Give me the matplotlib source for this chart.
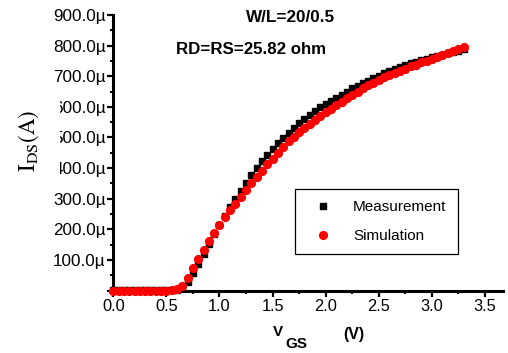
import numpy as np
import matplotlib
matplotlib.use("Agg")
import matplotlib.pyplot as plt
from matplotlib.ticker import FuncFormatter, MultipleLocator
from matplotlib.patches import Rectangle

plt.rcParams['font.family'] = ['Liberation Sans', 'DejaVu Sans']
plt.rcParams['mathtext.fontset'] = 'stix'

# ---- data (V in volts, current in µA) ----
vgs = [round(0.05 * i, 2) for i in range(67)]  # 0.00 .. 3.30

measurement = [0.5] * 12 + [
    3, 10, 28, 56, 88, 121, 153, 185, 215, 245,
    273, 300, 326, 351, 377, 401, 423, 444, 463, 481,
    498, 515, 531, 546, 560, 573, 586, 598, 609, 620,
    630, 640, 650, 660, 669, 678, 686, 694, 702, 709,
    716, 723, 730, 736, 742, 747, 752, 757, 762, 767,
    771, 775, 780, 784, 788]

simulation = [0.3] * 11 + [
    1, 4, 16, 41, 73, 104, 134, 161, 188, 214,
    239, 262, 284, 306, 328, 351, 372, 392, 412, 431,
    450, 468, 487, 503, 518, 532, 545, 558, 570, 582,
    594, 606, 617, 628, 639, 650, 660, 670, 679, 688,
    696, 704, 711, 718, 725, 732, 738, 745, 751, 757,
    764, 770, 776, 783, 789, 795]

W, H = 508, 353
fig = plt.figure(figsize=(W / 100, H / 100), dpi=100)

x0, x1 = 113.3, 503.0
ytop, ybot = 15.0, 290.6
ax = fig.add_axes([x0 / W, (H - ybot) / H, (x1 - x0) / W, (ybot - ytop) / H])

ax.plot(vgs, measurement, linestyle='none', marker='s', ms=4.8, color='black',
        mec='black', label='Measurement', clip_on=False, zorder=3)
ax.plot(vgs, simulation, linestyle='none', marker='o', ms=5.6, color='#ff0000',
        mec='#ff0000', label='Simulation', clip_on=False, zorder=4)

ax.set_xlim(0, 3.67)
ax.set_ylim(0, 900)
ax.xaxis.set_major_locator(MultipleLocator(0.5))
ax.xaxis.set_minor_locator(MultipleLocator(0.25))
ax.yaxis.set_major_locator(MultipleLocator(100))
ax.yaxis.set_minor_locator(MultipleLocator(50))
ax.xaxis.set_major_formatter(FuncFormatter(lambda v, p: f'{v:.1f}'))
ax.yaxis.set_major_formatter(FuncFormatter(lambda v, p: '' if abs(v) < 1e-9 else f'{v:.1f}\u00b5'))

for s in ('top', 'right'):
    ax.spines[s].set_visible(False)
for s in ('left', 'bottom'):
    ax.spines[s].set_linewidth(2.2)
ax.tick_params(which='major', direction='out', length=4, width=1.6,
               pad=1.5, colors='black')
ax.tick_params(axis='x', which='major', labelsize=11.8, pad=2)
ax.tick_params(axis='y', which='major', labelsize=12.3)
ax.tick_params(which='minor', direction='out', length=2.5, width=1.4)

leg = ax.legend(loc='upper left', bbox_to_anchor=((295 - x0) / (x1 - x0), (ybot - 189) / (ybot - ytop)),
                fontsize=11, frameon=True, fancybox=False, framealpha=1,
                borderpad=0.75, labelspacing=0.95, handlelength=2.2, handletextpad=0.85,
                borderaxespad=0, markerscale=1.0)
leg.get_frame().set_edgecolor('black')
leg.get_frame().set_linewidth(0.9)

def fx(px):
    return px / W

def fy(py):
    return (H - py) / H

fig.text(fx(291), fy(17), 'W/L=20/0.5', ha='center', va='center', fontsize=12.3, fontweight='bold')
fig.text(fx(251), fy(50), 'RD=RS=25.82 ohm', ha='center', va='center', fontsize=12.2, fontweight='bold')

# x axis label pieces
fig.text(fx(278), fy(332), 'V', ha='center', va='center', fontsize=11, fontweight='bold')
fig.text(fx(296), fy(344), 'GS', ha='center', va='center', fontsize=11, fontweight='bold')
fig.text(fx(354), fy(334), '(V)', ha='center', va='center', fontsize=11.5, fontweight='bold')

# white patch behind y label (as in the reference)
fig.patches.append(Rectangle((0, fy(183)), 60 / W, 91 / H, transform=fig.transFigure,
                             facecolor='white', edgecolor='none', zorder=5))
fig.text(fx(29), fy(141), r'$\mathrm{I_{DS}(A)}$', rotation=90, ha='center', va='center',
         fontsize=16.5, zorder=6)

fig.savefig('out.png', dpi=100)
